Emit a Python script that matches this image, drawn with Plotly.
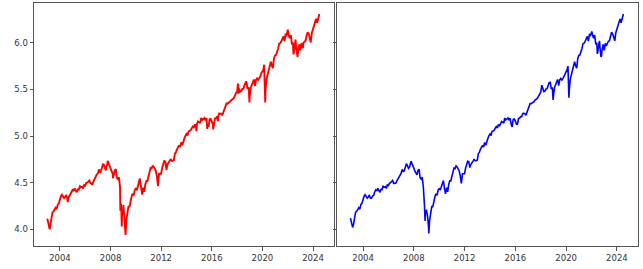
import pandas as pd
import plotly.graph_objects as go

# Monthly (month-end) log price values, Jan 2003 .. Jun 2024
month_start = "2003-01-31"
log_monthly = [
    # 2003
    4.062, 4.044, 4.051, 4.129, 4.181, 4.193, 4.211, 4.231, 4.216, 4.267, 4.278, 4.324,
    # 2004
    4.355, 4.371, 4.356, 4.334, 4.347, 4.368, 4.334, 4.334, 4.355, 4.362, 4.400, 4.423,
    # 2005
    4.416, 4.438, 4.416, 4.397, 4.428, 4.426, 4.462, 4.451, 4.457, 4.438, 4.476, 4.469,
    # 2006
    4.497, 4.499, 4.512, 4.524, 4.493, 4.492, 4.494, 4.519, 4.540, 4.572, 4.590, 4.598,
    # 2007
    4.642, 4.621, 4.626, 4.670, 4.703, 4.684, 4.653, 4.666, 4.699, 4.712, 4.673, 4.656,
    # 2008
    4.623, 4.596, 4.583, 4.630, 4.645, 4.551, 4.538, 4.558, 4.454, 4.273, 4.193, 4.202,
    # 2009
    4.139, 4.025, 4.098, 4.188, 4.243, 4.243, 4.315, 4.352, 4.382, 4.363, 4.422, 4.435,
    # 2010
    4.421, 4.451, 4.506, 4.522, 4.439, 4.381, 4.447, 4.401, 4.481, 4.519, 4.518, 4.579,
    # 2011
    4.622, 4.656, 4.651, 4.680, 4.669, 4.647, 4.626, 4.567, 4.493, 4.596, 4.592, 4.596,
    # 2012
    4.661, 4.703, 4.730, 4.724, 4.662, 4.696, 4.708, 4.731, 4.753, 4.735, 4.735, 4.742,
    # 2013
    4.812, 4.824, 4.857, 4.876, 4.900, 4.881, 4.931, 4.901, 4.927, 4.972, 5.002, 5.022,
    # 2014
    5.006, 5.050, 5.054, 5.061, 5.084, 5.100, 5.086, 5.125, 5.106, 5.130, 5.157, 5.149,
    # 2015
    5.138, 5.193, 5.172, 5.182, 5.194, 5.169, 5.192, 5.129, 5.097, 5.179, 5.183, 5.160,
    # 2016
    5.128, 5.128, 5.188, 5.191, 5.208, 5.207, 5.242, 5.244, 5.239, 5.222, 5.258, 5.272,
    # 2017
    5.310, 5.349, 5.346, 5.356, 5.370, 5.371, 5.392, 5.395, 5.409, 5.433, 5.463, 5.470,
    # 2018
    5.545, 5.508, 5.476, 5.481, 5.505, 5.506, 5.543, 5.574, 5.575, 5.504, 5.522, 5.424,
    # 2019
    5.520, 5.552, 5.566, 5.606, 5.540, 5.602, 5.617, 5.600, 5.615, 5.637, 5.672, 5.696,
    # 2020
    5.714, 5.631, 5.495, 5.612, 5.658, 5.671, 5.728, 5.796, 5.754, 5.728, 5.832, 5.864,
    # 2021
    5.870, 5.897, 5.938, 5.990, 5.996, 6.015, 6.039, 6.069, 6.018, 6.086, 6.078, 6.119,
    # 2022
    6.079, 6.049, 6.083, 5.991, 5.993, 5.903, 5.991, 5.949, 5.848, 5.926, 5.981, 5.917,
    # 2023
    5.993, 5.967, 6.000, 6.016, 6.021, 6.079, 6.112, 6.095, 6.043, 6.021, 6.108, 6.149,
    # 2024
    6.173, 6.225, 6.256, 6.215, 6.265, 6.297,
]

# Additional intra-month points (daily series, left panel)
daily_extra_dates = [
    "2003-01-02", "2003-03-11", "2004-08-12", "2006-07-18", "2007-03-05", "2007-08-16",
    "2007-10-09", "2008-03-10", "2008-10-10", "2008-11-20", "2009-01-06", "2009-03-09",
    "2010-04-23", "2010-07-02", "2011-05-02", "2011-10-03", "2012-04-02", "2012-06-01",
    "2014-10-15", "2015-08-24", "2016-02-11", "2016-06-27", "2018-01-26", "2018-02-08",
    "2018-09-20", "2018-12-24", "2019-06-03", "2020-02-19", "2020-03-23", "2022-01-03",
    "2022-06-16", "2022-08-16", "2022-10-12", "2023-03-13", "2023-10-27", "2024-07-03",
]
daily_extra_vals = [
    4.115, 4.000, 4.291, 4.475, 4.604, 4.630,
    4.734, 4.547, 4.198, 4.030, 4.260, 3.940,
    4.546, 4.371, 4.684, 4.464, 4.737, 4.636,
    5.051, 5.075, 5.071, 5.158, 5.561, 5.454,
    5.585, 5.360, 5.537, 5.764, 5.360, 6.139,
    5.875, 6.033, 5.847, 5.939, 6.003, 6.308,
]

# Additional points (weekly series, right panel)
weekly_extra_dates = [
    "2003-01-03", "2003-03-07", "2007-10-12", "2008-11-21", "2009-03-06", "2018-12-21",
    "2020-02-21", "2020-03-20", "2022-01-07", "2022-06-17", "2022-08-19", "2022-10-14",
    "2024-07-05",
]
weekly_extra_vals = [
    4.120, 4.020, 4.730, 4.090, 3.955, 5.386,
    5.750, 5.410, 6.120, 5.880, 6.020, 5.860,
    6.308,
]

x_ticks = ["2004", "2008", "2012", "2016", "2020", "2024"]
y_ticks = [4.0, 4.5, 5.0, 5.5, 6.0]

monthly_dates = pd.date_range(month_start, periods=len(log_monthly), freq="ME")
base = pd.Series(log_monthly, index=monthly_dates)
left = pd.concat([base, pd.Series(daily_extra_vals, index=pd.to_datetime(daily_extra_dates))]).sort_index()
right = pd.concat([base, pd.Series(weekly_extra_vals, index=pd.to_datetime(weekly_extra_dates))]).sort_index()

fig = go.Figure()
fig.add_trace(go.Scatter(x=left.index, y=left.values, mode="lines",
                         line=dict(color="#ff0000", width=1.9), xaxis="x", yaxis="y",
                         showlegend=False))
fig.add_trace(go.Scatter(x=right.index, y=right.values, mode="lines",
                         line=dict(color="#0000ff", width=1.6), xaxis="x2", yaxis="y2",
                         showlegend=False))

font = dict(family="DejaVu Sans", size=8.5, color="#333333")
xcommon = dict(
    type="date", range=["2001-12-13", "2025-08-29"],
    tickvals=[f"{t}-01-01" for t in x_ticks], ticktext=x_ticks,
    showline=True, mirror=True, linecolor="#555555", linewidth=1,
    ticks="outside", ticklen=3.5, tickcolor="#555555", tickwidth=1,
    showgrid=False, zeroline=False, tickfont=font,
)
ycommon = dict(
    range=[3.821, 6.426], tickvals=y_ticks, ticktext=[f"{v:.1f}" for v in y_ticks],
    showline=True, mirror=True, linecolor="#555555", linewidth=1,
    ticks="outside", ticklen=3.5, tickcolor="#555555", tickwidth=1,
    showgrid=False, zeroline=False, tickfont=font,
)

fig.update_layout(
    width=643, height=269,
    margin=dict(l=34, r=5, t=3, b=23),
    paper_bgcolor="white", plot_bgcolor="white",
    hovermode=False,
    xaxis=dict(domain=[0, 0.4967], anchor="y", **xcommon),
    yaxis=dict(anchor="x", **ycommon),
    xaxis2=dict(domain=[0.5017, 1.0], anchor="y2", **xcommon),
    yaxis2=dict(anchor="x2", showticklabels=False, **ycommon),
)

fig.write_html("out.html",
               config={"displayModeBar": False, "staticPlot": True},
               post_script="document.body.style.margin='0';document.body.style.overflow='hidden';")
